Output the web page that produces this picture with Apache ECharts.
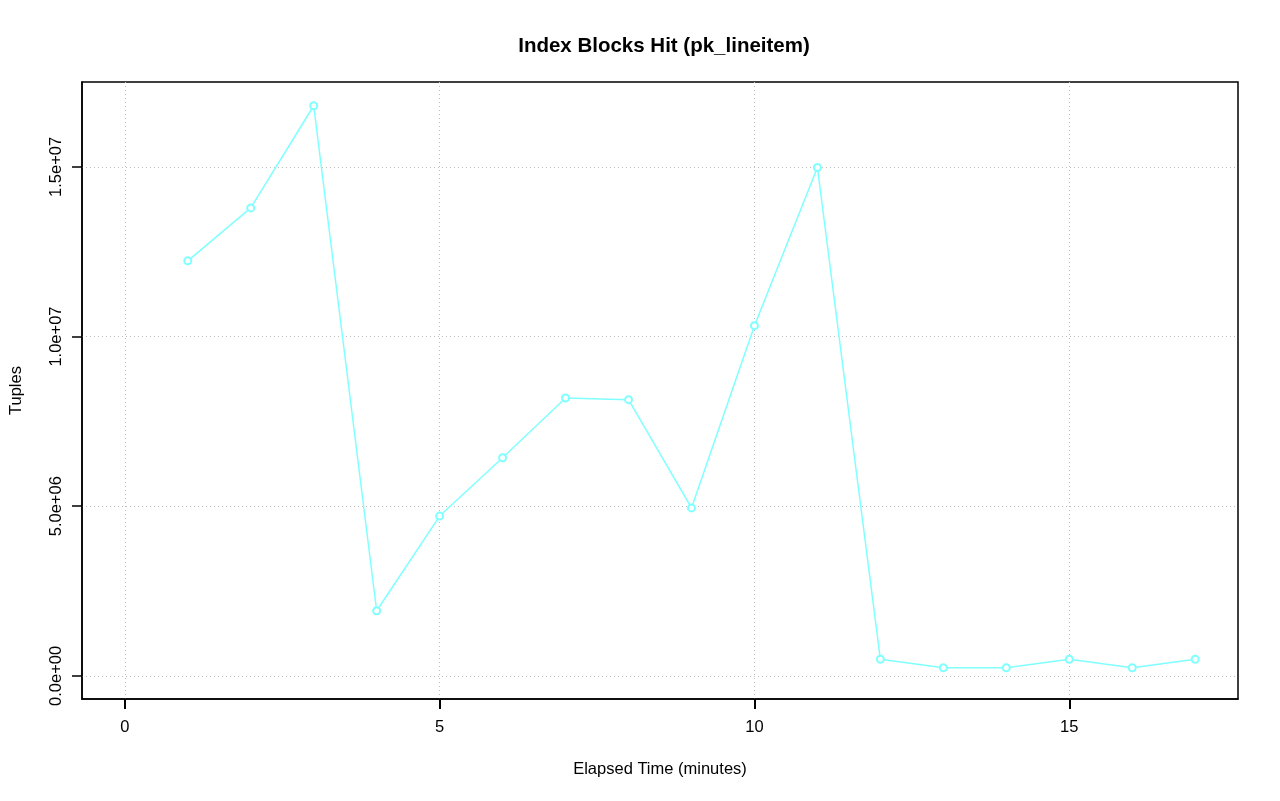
<!DOCTYPE html>
<html>
<head>
<meta charset="utf-8">
<title>Index Blocks Hit (pk_lineitem)</title>
<script src="https://cdn.jsdelivr.net/npm/echarts@6/dist/echarts.min.js"></script>
<style>
  html, body { margin: 0; padding: 0; background: #fff; }
  #chart { width: 1280px; height: 801px; }
</style>
</head>
<body>
<div id="chart"></div>
<script>
// elapsed minutes and tuples
var minutes = [1, 2, 3, 4, 5, 6, 7, 8, 9, 10, 11, 12, 13, 14, 15, 16, 17];
var tuples = [12230000, 13790000, 16800000, 1920000, 4710000, 6430000, 8190000, 8140000,
              4950000, 10320000, 14980000, 490000, 240000, 240000, 490000, 240000, 490000];
var xTicks = [0, 5, 10, 15];
var yTicks = [0, 5000000, 10000000, 15000000];
var yTickLabels = ['0.0e+00', '5.0e+06', '1.0e+07', '1.5e+07'];

var font = 'Liberation Sans, Arial, Helvetica, sans-serif';

var chart = echarts.init(document.getElementById('chart'), null, { renderer: 'canvas' });
chart.setOption({
    backgroundColor: '#fff',
    animation: false,
    title: {
        text: 'Index Blocks Hit (pk_lineitem)',
        left: 659,
        top: 31,
        textAlign: 'center',
        textStyle: { fontFamily: font, fontSize: 20.5, fontWeight: 'bold', color: '#000' }
    },
    grid: {
        left: 82, right: 42, top: 82, bottom: 102,
        outerBoundsMode: 'none',
        show: true, borderColor: '#000', borderWidth: 1.5
    },
    xAxis: {
        type: 'value',
        min: -0.68,
        max: 17.68,
        name: 'Elapsed Time (minutes)',
        nameLocation: 'middle',
        nameGap: 62,
        nameTextStyle: { fontFamily: font, fontSize: 16.5, color: '#000' },
        axisLine: { show: true, onZero: false, lineStyle: { color: '#000', width: 1.5 } },
        axisTick: { show: true, inside: false, length: 10, customValues: xTicks, lineStyle: { color: '#000', width: 2 } },
        axisLabel: {
            customValues: xTicks, margin: 20,
            fontFamily: font, fontSize: 16.5, color: '#000'
        },
        splitLine: { show: true, lineStyle: { color: '#bdbdbd', type: [1, 3], width: 1 } }
    },
    yAxis: {
        type: 'value',
        min: -680000,
        max: 17500000,
        name: 'Tuples',
        nameLocation: 'middle',
        nameGap: 57,
        nameRotate: 90,
        nameTextStyle: { fontFamily: font, fontSize: 16.5, color: '#000' },
        axisLine: { show: true, onZero: false, lineStyle: { color: '#000', width: 1.5 } },
        axisTick: { show: true, inside: false, length: 10, customValues: yTicks, lineStyle: { color: '#000', width: 1.5 } },
        axisLabel: {
            customValues: yTicks, margin: 17, rotate: 90,
            fontFamily: font, fontSize: 16.5, color: '#000',
            formatter: function (v) {
                var i = yTicks.indexOf(v);
                return i >= 0 ? yTickLabels[i] : '';
            }
        },
        splitLine: { show: true, lineStyle: { color: '#bdbdbd', type: [1, 3], width: 1 } }
    },
    series: [{
        type: 'line',
        data: minutes.map(function (m, i) { return [m, tuples[i]]; }),
        symbol: 'emptyCircle',
        symbolSize: 7,
        lineStyle: { color: '#80ffff', width: 1.5 },
        itemStyle: { color: '#80ffff', borderColor: '#80ffff', borderWidth: 1.5 }
    }]
});
</script>
</body>
</html>
